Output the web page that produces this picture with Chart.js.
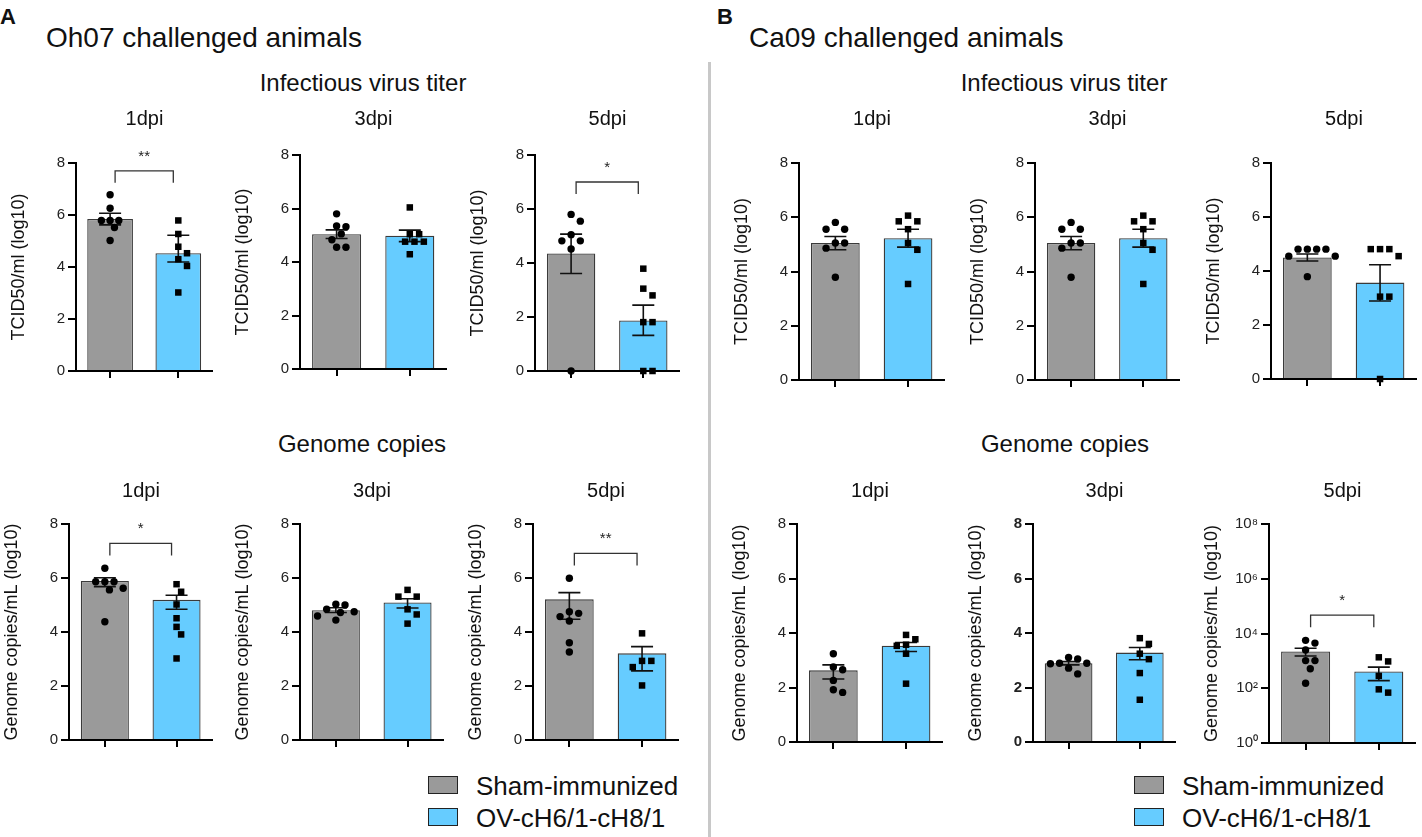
<!DOCTYPE html>
<html><head><meta charset="utf-8">
<script src="https://cdn.jsdelivr.net/npm/chart.js@4.4.1/dist/chart.umd.min.js"></script>
<style>
html,body{margin:0;padding:0;background:#fff;}
body{width:1422px;height:837px;position:relative;overflow:hidden;font-family:'Liberation Sans',Arial,Helvetica,sans-serif;color:#111;}
.t{position:absolute;white-space:nowrap;line-height:1;}
.c{transform:translateX(-50%);}
canvas{position:absolute;}
.box{position:absolute;width:30px;box-sizing:border-box;border:1.5px solid #222;}
</style></head><body>
<div class="t" style="left:0px;top:6px;font-size:22px;font-weight:bold;">A</div>
<div class="t" style="left:46px;top:24px;font-size:28px;">Oh07 challenged animals</div>
<div class="t" style="left:717px;top:6px;font-size:22px;font-weight:bold;">B</div>
<div class="t" style="left:749px;top:24px;font-size:28px;">Ca09 challenged animals</div>
<div class="t c" style="left:363px;top:71px;font-size:24px;">Infectious virus titer</div>
<div class="t c" style="left:1064px;top:71px;font-size:24px;">Infectious virus titer</div>
<div class="t c" style="left:362px;top:432px;font-size:24px;">Genome copies</div>
<div class="t c" style="left:1065px;top:432px;font-size:24px;">Genome copies</div>
<div style="position:absolute;left:708px;top:62px;width:3px;height:775px;background:#c8c8c8;"></div>
<div id="wrap"></div>
<script>
// ---------------- DATA ----------------
const dpiLabels = ['1dpi', '3dpi', '5dpi'];
const groupLabels = ['Sham-immunized', 'OV-cH6/1-cH8/1'];
const yTickValues = [0, 2, 4, 6, 8];
const logTickLabels = ['10\u2070', '10\u00B2', '10\u2074', '10\u2076', '10\u2078'];
const titerAxisTitle = 'TCID50/ml (log10)';
const genomeAxisTitle = 'Genome copies/mL (log10)';

// A: Oh07, infectious virus titer (log10 TCID50/ml), per dpi
const A_titer_sham = [
  [6.78, 6.26, 5.79, 5.79, 5.79, 5.52, 5.02],
  [5.80, 5.35, 5.32, 5.05, 4.83, 4.55, 4.55],
  [5.80, 5.55, 5.05, 4.82, 4.82, 4.52, 0]
];
const A_titer_ov = [
  [5.79, 5.27, 4.78, 4.53, 4.30, 4.04, 3.02],
  [6.04, 5.04, 5.04, 4.76, 4.76, 4.76, 4.29],
  [3.79, 3.05, 2.80, 1.81, 1.81, 0, 0]
];
const A_titer_mean = [[5.85, 4.53], [5.04, 4.98], [4.35, 1.87]];
const A_titer_errHi = [[6.07, 5.22], [5.20, 5.19], [5.07, 2.44]];
const A_titer_errLo = [[5.62, 4.19], [4.88, 4.76], [3.61, 1.32]];
const A_titer_sig = ['**', '', '*'];
const A_titer_sigY = [7.7, null, 7.0];

// B: Ca09, infectious virus titer
const B_titer_sham = [
  [5.81, 5.56, 5.56, 5.05, 5.05, 4.86, 3.79],
  [5.81, 5.56, 5.56, 5.05, 5.05, 4.86, 3.79],
  [4.81, 4.81, 4.81, 4.81, 4.55, 4.55, 3.79]
];
const B_titer_ov = [
  [6.06, 5.85, 5.85, 5.56, 5.05, 4.80, 3.54],
  [6.06, 5.85, 5.85, 5.56, 5.05, 4.80, 3.54],
  [4.81, 4.81, 4.81, 4.55, 3.05, 3.05, 0]
];
const B_titer_mean = [[5.05, 5.23], [5.05, 5.23], [4.50, 3.57]];
const B_titer_errHi = [[5.29, 5.56], [5.29, 5.56], [4.63, 4.23]];
const B_titer_errLo = [[4.80, 4.90], [4.80, 4.90], [4.37, 2.89]];
const B_titer_sig = ['', '', ''];
const B_titer_sigY = [null, null, null];

// A: Oh07, genome copies (log10)
const A_gen_sham = [
  [6.36, 5.86, 5.86, 5.86, 5.62, 5.56, 4.38],
  [5.03, 5.00, 4.84, 4.75, 4.72, 4.59, 4.44],
  [5.99, 4.75, 4.69, 4.57, 4.41, 3.60, 3.26]
];
const A_gen_ov = [
  [5.77, 5.49, 5.02, 4.51, 4.19, 3.91, 3.02],
  [5.56, 5.31, 5.31, 4.84, 4.65, 4.31],
  [3.95, 2.93, 2.93, 2.70, 2.02]
];
const A_gen_mean = [[5.89, 5.19], [4.81, 5.09], [5.21, 3.21]];
const A_gen_errHi = [[6.01, 5.36], [4.90, 5.23], [5.46, 3.46]];
const A_gen_errLo = [[5.68, 4.84], [4.72, 4.89], [4.47, 2.56]];
const A_gen_sig = ['*', '', '**'];
const A_gen_sigY = [7.28, null, 6.91];

// B: Ca09, genome copies (log10)
const B_gen_sham = [
  [3.24, 2.75, 2.65, 2.26, 1.92, 1.82],
  [3.10, 3.05, 2.89, 2.89, 2.87, 2.71, 2.50],
  [3.75, 3.65, 3.40, 3.01, 3.01, 2.71, 2.18]
];
const B_gen_ov = [
  [3.93, 3.77, 3.57, 3.53, 3.24, 2.14],
  [3.81, 3.60, 3.24, 3.04, 2.53, 1.55],
  [3.13, 2.98, 2.45, 1.96, 1.84]
];
const B_gen_mean = [[2.63, 3.53], [2.89, 3.28], [3.34, 2.61]];
const B_gen_errHi = [[2.83, 3.65], [2.95, 3.47], [3.46, 2.77]];
const B_gen_errLo = [[2.31, 3.32], [2.83, 3.02], [3.18, 2.28]];
const B_gen_sig = ['', '', '*'];
const B_gen_sigY = [null, null, 4.67];

// ---------------- LAYOUT ----------------
// [axisX, plotTop, plotRight, plotBottom]
const topGeom = [[76,163,213,371],[300,155,447,369],[535,155,680,371],[799,163,945,380],[1035,163,1180,380],[1271,163,1417,379]];
const botGeom = [[69,524,213,740],[300,524,444,740],[533,524,679,740],[797,524,943,742],[1033,524,1176,742],[1269,524,1416,743]];
const GRAY = '#9a9a9a', BLUE = '#66ccff';
const FONT = "'Liberation Sans', Arial, Helvetica, sans-serif";
Chart.defaults.font.family = FONT;
Chart.defaults.color = '#222';

function swarm(vals, base) {
  const d = 8.6, step = 4.6, ppu = 27, ppc = 72;
  const order = vals.map((v, i) => i).sort((a, b) => vals[b] - vals[a]);
  const placed = [];
  const out = new Array(vals.length);
  order.forEach(i => {
    const y = vals[i] * ppu;
    for (let k = 0; k < 60; k++) {
      const off = k === 0 ? 0 : (k % 2 ? 1 : -1) * Math.ceil(k / 2) * step;
      if (placed.every(p => Math.hypot(p[0] - off, p[1] - y) >= d)) {
        placed.push([off, y]);
        out[i] = { x: base + off / ppc, y: vals[i] };
        break;
      }
    }
  });
  return out;
}

function extrasPlugin(info) {
  return {
    id: 'extras',
    afterDatasetDraw(chart, args) {
      if (args.index !== 0) return;
      const ctx = chart.ctx, ys = chart.scales.y, xs = chart.scales.x;
      ctx.save();
      ctx.strokeStyle = '#111';
      ctx.lineWidth = 1.6;
      [0, 1].forEach(i => {
        const x = xs.getPixelForValue(i), lo = ys.getPixelForValue(info.lo[i]), hi = ys.getPixelForValue(info.hi[i]);
        ctx.beginPath();
        ctx.moveTo(x, lo); ctx.lineTo(x, hi);
        ctx.moveTo(x - 11, hi); ctx.lineTo(x + 11, hi);
        ctx.moveTo(x - 11, lo); ctx.lineTo(x + 11, lo);
        ctx.stroke();
      });
      ctx.restore();
    },
    afterDraw(chart) {
      if (!info.sig || info.sigY == null) return;
      const ctx = chart.ctx, xs = chart.scales.x, ys = chart.scales.y;
      const x0 = xs.getPixelForValue(0) + 5, x1 = xs.getPixelForValue(1) - 5;
      const y = ys.getPixelForValue(info.sigY);
      ctx.save();
      ctx.strokeStyle = '#333'; ctx.lineWidth = 1.3;
      ctx.beginPath();
      ctx.moveTo(x0, y + 12); ctx.lineTo(x0, y); ctx.lineTo(x1, y); ctx.lineTo(x1, y + 12);
      ctx.stroke();
      ctx.fillStyle = '#222'; ctx.font = '15px ' + FONT;
      ctx.textAlign = 'center'; ctx.textBaseline = 'alphabetic';
      ctx.fillText(info.sig, (x0 + x1) / 2, y - 10);
      ctx.restore();
    }
  };
}

const wrap = document.getElementById('wrap');
function addText(txt, cx, top, size) {
  const d = document.createElement('div');
  d.className = 't c';
  d.style.left = cx + 'px'; d.style.top = top + 'px'; d.style.fontSize = size + 'px';
  d.textContent = txt;
  document.body.appendChild(d);
}

function makePanel(g, title, yTitle, sham, ov, mean, hi, lo, sig, sigY, isLog, boldTicks) {
  const [ax, pt, pr, pb] = g;
  const W = 72, P = 40, H = 12, R = 4;
  const left = ax - W, top = pt - P;
  const width = pr + R - left, height = pb + H - top;
  addText(title, (ax + pr) / 2, pt < 300 ? 108 : 480, 20);
  const cv = document.createElement('canvas');
  cv.style.left = left + 'px'; cv.style.top = top + 'px';
  cv.style.width = width + 'px'; cv.style.height = height + 'px';
  cv.width = width; cv.height = height;
  wrap.appendChild(cv);
  new Chart(cv, {
    type: 'bar',
    data: {
      labels: groupLabels,
      datasets: [
        { type: 'bar', data: mean, backgroundColor: [GRAY, BLUE], borderColor: '#3a3a3a', borderWidth: 1.3,
          barPercentage: 0.67, categoryPercentage: 1.0, grouped: false, order: 2 },
        { type: 'scatter', xAxisID: 'xp', data: swarm(sham, 0), backgroundColor: '#000', borderWidth: 0,
          pointStyle: 'circle', pointRadius: 3.7, showLine: false, clip: false, order: 0 },
        { type: 'scatter', xAxisID: 'xp', data: swarm(ov, 1), backgroundColor: '#000', borderWidth: 0,
          pointStyle: 'rect', pointRadius: 4.6, showLine: false, clip: false, order: 0 }
      ]
    },
    options: {
      responsive: false, animation: false,
      layout: { padding: { top: P, right: R, left: 0, bottom: 0 } },
      plugins: { legend: { display: false }, tooltip: { enabled: false }, title: { display: false } },
      scales: {
        x: {
          type: 'category', offset: true,
          grid: { display: true, drawOnChartArea: false, drawTicks: true, tickLength: 7, offset: false, color: '#000', lineWidth: 2 },
          border: { display: true, color: '#000', width: 2 },
          ticks: { callback: () => '' },
          afterFit: s => { s.height = H; }
        },
        xp: { type: 'linear', display: false, offset: false, grid: { offset: false }, min: -0.5, max: 1.5 },
        y: {
          min: 0, max: 8,
          afterBuildTicks: s => { s.ticks = yTickValues.map(v => ({ value: v })); },
          grid: { drawOnChartArea: false, drawTicks: true, tickLength: 8, color: '#000', lineWidth: 2 },
          border: { display: true, color: '#000', width: 2 },
          ticks: {
            padding: 3, color: '#222',
            font: { size: 15, weight: boldTicks ? 'bold' : 'normal' },
            callback: v => isLog ? logTickLabels[yTickValues.indexOf(v)] : String(v)
          },
          title: { display: true, text: yTitle, color: '#111', font: { size: 18 }, padding: { top: 4, bottom: 0 } },
          afterFit: s => { s.width = W; }
        }
      }
    },
    plugins: [extrasPlugin({ lo, hi, sig, sigY })]
  });
}

for (let i = 0; i < 3; i++) {
  makePanel(topGeom[i], dpiLabels[i], titerAxisTitle, A_titer_sham[i], A_titer_ov[i], A_titer_mean[i],
    A_titer_errHi[i], A_titer_errLo[i], A_titer_sig[i], A_titer_sigY[i], false, false);
  makePanel(topGeom[i + 3], dpiLabels[i], titerAxisTitle, B_titer_sham[i], B_titer_ov[i], B_titer_mean[i],
    B_titer_errHi[i], B_titer_errLo[i], B_titer_sig[i], B_titer_sigY[i], false, false);
  makePanel(botGeom[i], dpiLabels[i], genomeAxisTitle, A_gen_sham[i], A_gen_ov[i], A_gen_mean[i],
    A_gen_errHi[i], A_gen_errLo[i], A_gen_sig[i], A_gen_sigY[i], false, false);
  makePanel(botGeom[i + 3], dpiLabels[i], genomeAxisTitle, B_gen_sham[i], B_gen_ov[i], B_gen_mean[i],
    B_gen_errHi[i], B_gen_errLo[i], B_gen_sig[i], B_gen_sigY[i], i === 2, i === 1);
}

// legends
function legend(boxLeft, textLeft) {
  const colors = [GRAY, BLUE], tops = [776, 808], ttops = [773, 805];
  groupLabels.forEach((lab, i) => {
    const b = document.createElement('div');
    b.className = 'box';
    b.style.left = boxLeft + 'px'; b.style.top = tops[i] + 'px'; b.style.height = '18px';
    b.style.background = colors[i];
    document.body.appendChild(b);
    const t = document.createElement('div');
    t.className = 't';
    t.style.left = textLeft + 'px'; t.style.top = ttops[i] + 'px'; t.style.fontSize = '26px';
    t.textContent = lab;
    document.body.appendChild(t);
  });
}
legend(428, 476);
legend(1134, 1182);
</script>
</body></html>
